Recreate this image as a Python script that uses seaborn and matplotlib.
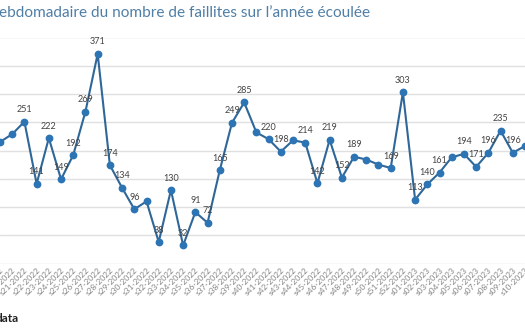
import matplotlib
matplotlib.use("Agg")
import matplotlib.pyplot as plt
import seaborn as sns
import pandas as pd

# Weekly number of business failures
weeks = ["s19-2022", "s20-2022", "s21-2022", "s22-2022", "s23-2022", "s24-2022",
         "s25-2022", "s26-2022", "s27-2022", "s28-2022", "s29-2022", "s30-2022",
         "s31-2022", "s32-2022", "s33-2022", "s34-2022", "s35-2022", "s36-2022",
         "s37-2022", "s38-2022", "s39-2022", "s40-2022", "s41-2022", "s42-2022",
         "s43-2022", "s44-2022", "s45-2022", "s46-2022", "s47-2022", "s48-2022",
         "s49-2022", "s50-2022", "s51-2022", "s52-2022", "s01-2023", "s02-2023",
         "s03-2023", "s04-2023", "s05-2023", "s06-2023", "s07-2023", "s08-2023",
         "s09-2023", "s10-2023"]
failures = [215, 229, 251, 141, 222, 149, 192, 269, 371, 174, 134, 96,
            110, 38, 130, 32, 91, 72, 165, 249, 285, 232, 220, 198,
            218, 214, 142, 219, 152, 189, 184, 175, 169, 303, 113, 140,
            161, 188, 194, 171, 196, 235, 196, 208]
# Points whose value is printed above the marker
labelled = [False, False, True, True, True, True, True, True, True, True, True, True,
            False, True, True, True, True, True, True, True, True, False, True, True,
            False, True, True, True, True, True, False, False, True, True, True, True,
            True, False, True, True, True, True, True, False]

title = "ebdomadaire du nombre de faillites sur l\u2019année écoulée"
source = "data"

LINE = "#2f6798"
DOT = "#2c74b3"
GRID = "#e0e0e0"

sns.set_theme(style="white")
plt.rcParams["font.family"] = ["Lato", "DejaVu Sans"]

W, H = 525, 328
fig = plt.figure(figsize=(W / 100, H / 100), dpi=100)

# plot area in pixel terms: y from 37.5 (top) to 263.5 (bottom)
top_px, bot_px = 37.5, 263.5
ax = fig.add_axes([0, 1 - bot_px / H, 1, (bot_px - top_px) / H])

df = pd.DataFrame({"idx": range(len(weeks)), "week": weeks, "n": failures})
sns.lineplot(data=df, x="idx", y="n", ax=ax, color=LINE, linewidth=1.5,
             marker="o", markersize=5.6, markerfacecolor=DOT,
             markeredgecolor=DOT, markeredgewidth=0)

for i, (v, show) in enumerate(zip(failures, labelled)):
    if show:
        ax.annotate(str(v), (i, v), xytext=(0, 5.4), textcoords="offset points",
                    ha="center", va="bottom", fontsize=6.5, color="#444444")

spacing = 12.37
first_px = 5.9  # pixel position of s20
ax.set_xlim(1 - first_px / spacing, 1 + (W - first_px) / spacing)
ax.set_ylim(0, 400)
ax.set_yticks(range(0, 401, 50))
ax.set_yticklabels([])
ax.grid(axis="y", color=GRID, linewidth=1.0)
ax.grid(axis="x", visible=False)
for s in ax.spines.values():
    s.set_visible(False)
ax.set_xticks(range(len(weeks)))
ax.set_xticklabels(weeks, rotation=45, ha="right", rotation_mode="anchor",
                   fontsize=6.0, color="#858585")
ax.tick_params(axis="both", length=0, pad=2)
ax.tick_params(axis="y", pad=0)
ax.set_xlabel("")
ax.set_ylabel("")

fig.text(-1 / W, 1 - 13 / H, title, ha="left", va="center",
         fontsize=11.1, color="#4f7fa6")
fig.text(-4 / W, 1 - 318 / H, source, ha="left", va="center",
         fontsize=8.5, fontweight="bold", color="#222222")

fig.savefig("out.png", dpi=100)
